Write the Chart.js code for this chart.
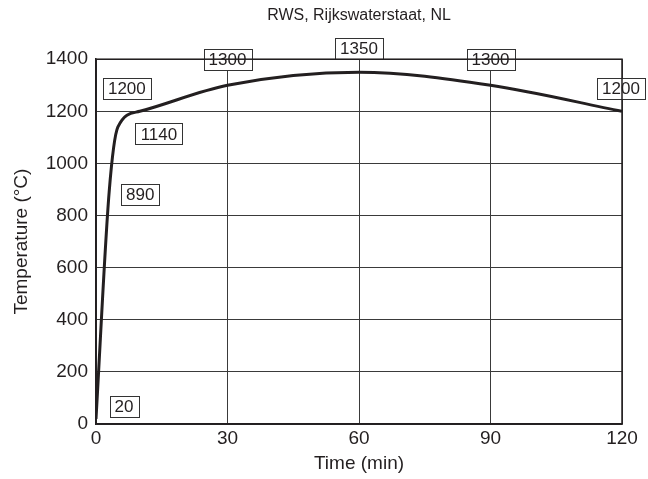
<!DOCTYPE html>
<html lang="en">
<head>
    <meta charset="UTF-8">
    <title>RWS fire curve</title>
    <script src="https://cdn.jsdelivr.net/npm/chart.js"></script>
    <style>
        html, body { margin: 0; padding: 0; background: #fff; }
        #wrap { width: 648px; height: 479px; }
    </style>
</head>
<body>
    <div id="wrap"><canvas id="rws-chart"></canvas></div>

    <script>
        // RWS curve
        const times = [0, 3, 5, 10, 30, 60, 90, 120];          // min
        const temps = [20, 890, 1140, 1200, 1300, 1350, 1300, 1200]; // °C
        const boxLabels = ['20', '890', '1140', '1200', '1300', '1350', '1300', '1200'];

        // pixel nudges for the boxed labels (style only)
        const labelOffsets = [[28, -12], [31, 2], [41, 7], [-13, -23], [0, -26], [0, -24], [0, -26], [-1, -23]];

        const font = "'Liberation Sans', Arial, Helvetica, sans-serif";
        const ink = '#231f20';

        const boxPlugin = {
            id: 'boxLabels',
            afterDatasetsDraw(chart) {
                const ctx = chart.ctx;
                const xs = chart.scales.x, ys = chart.scales.y;
                ctx.save();
                ctx.font = '17px ' + font;
                ctx.textAlign = 'center';
                ctx.textBaseline = 'middle';
                boxLabels.forEach((txt, i) => {
                    const cx = xs.getPixelForValue(times[i]) + labelOffsets[i][0];
                    const cy = ys.getPixelForValue(temps[i]) + labelOffsets[i][1];
                    const w = Math.round(ctx.measureText(txt).width + 10);
                    const h = 21;
                    const x0 = Math.round(cx - w / 2) + 0.5, y0 = Math.round(cy - h / 2) + 0.5;
                    ctx.fillStyle = '#fff';
                    ctx.fillRect(x0, y0, w, h);
                    ctx.strokeStyle = '#333';
                    ctx.lineWidth = 1;
                    ctx.strokeRect(x0, y0, w, h);
                    ctx.fillStyle = ink;
                    ctx.fillText(txt, cx, cy + 1);
                });
                ctx.restore();
            }
        };

        new Chart(document.getElementById('rws-chart'), {
            type: 'line',
            data: {
                datasets: [{
                    label: 'RWS',
                    data: times.map((t, i) => ({ x: t, y: temps[i] })),
                    borderColor: ink,
                    borderWidth: 3,
                    pointRadius: 0,
                    cubicInterpolationMode: 'monotone',
                    fill: false
                }]
            },
            options: {
                responsive: true,
                maintainAspectRatio: false,
                animation: false,
                layout: { padding: { left: 0, right: 26, top: 0, bottom: 0 } },
                plugins: {
                    legend: { display: false },
                    tooltip: { enabled: false },
                    title: {
                        display: true,
                        text: 'RWS, Rijkswaterstaat, NL',
                        fullSize: false,
                        color: ink,
                        font: { family: font, size: 16, weight: 'normal' },
                        padding: { top: 6, bottom: 34 }
                    }
                },
                scales: {
                    x: {
                        type: 'linear',
                        min: 0,
                        max: 120,
                        afterFit: s => { s.height = 55; },
                        ticks: { stepSize: 30, color: ink, padding: 3, font: { family: font, size: 19 }, callback: v => v },
                        grid: { color: '#3a3a3a', lineWidth: 1, drawTicks: false },
                        border: { color: ink, width: 1.5 },
                        title: { display: true, text: 'Time (min)', color: ink, padding: { top: 0, bottom: 4 }, font: { family: font, size: 19 } }
                    },
                    y: {
                        min: 0,
                        max: 1400,
                        afterFit: s => { s.width = 96; },
                        ticks: { stepSize: 200, color: ink, padding: 8, font: { family: font, size: 19 }, callback: v => v },
                        grid: { color: '#3a3a3a', lineWidth: 1, drawTicks: false },
                        border: { color: ink, width: 1.5 },
                        title: { display: true, text: 'Temperature (°C)', color: ink, padding: { top: 10, bottom: 0 }, font: { family: font, size: 19 } }
                    }
                }
            },
            plugins: [boxPlugin, {
                // close the frame on top and right
                id: 'frame',
                afterDraw(chart) {
                    const a = chart.chartArea, ctx = chart.ctx;
                    ctx.save();
                    ctx.strokeStyle = ink;
                    ctx.lineWidth = 1.5;
                    ctx.strokeRect(a.left, a.top, a.right - a.left, a.bottom - a.top);
                    ctx.restore();
                }
            }]
        });
    </script>
</body>
</html>
